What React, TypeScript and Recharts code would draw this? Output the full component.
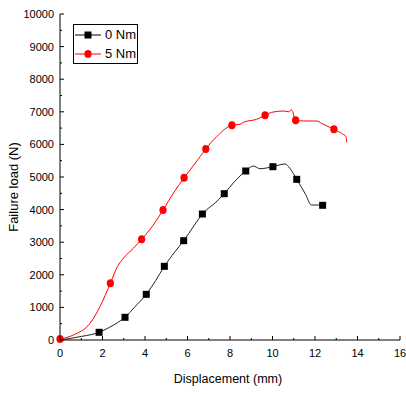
import { ComposedChart, Line, Scatter, XAxis, YAxis, Label } from "recharts";

// 0 Nm curve (black)
const disp0 = [0, 0.5, 1.0, 1.5, 1.84, 2.3, 2.7, 3.06, 3.5, 4.06, 4.5, 4.91, 5.4, 5.82, 6.3, 6.7, 7.0, 7.2, 7.73, 8.2, 8.74, 9.1, 9.41, 10.02, 10.59, 10.82, 11.14, 11.53, 11.84, 12.16, 12.36];
const load0 = [0, 50, 110, 170, 236, 380, 530, 696, 1000, 1401, 1820, 2260, 2700, 3046, 3500, 3865, 4050, 4150, 4488, 4850, 5184, 5337, 5255, 5316, 5399, 5266, 4929, 4499, 4141, 4141, 4132];
const markDisp0 = [1.84, 3.06, 4.06, 4.91, 5.82, 6.7, 7.73, 8.74, 10.02, 11.14, 12.36];
const markLoad0 = [236, 696, 1401, 2260, 3046, 3865, 4488, 5184, 5316, 4929, 4132];

// 5 Nm curve (red)
const disp5 = [0, 0.63, 1.41, 1.88, 2.37, 2.7, 3.0, 3.45, 3.84, 4.39, 4.85, 5.33, 5.84, 6.12, 6.59, 6.86, 7.37, 8.09, 8.47, 8.63, 9.25, 9.65, 9.96, 10.51, 10.75, 10.9, 11.09, 11.45, 12.08, 12.31, 12.89, 13.25, 13.46, 13.49];
const load5 = [30, 153, 511, 1022, 1739, 2250, 2520, 2812, 3089, 3528, 3988, 4499, 4979, 5215, 5623, 5859, 6237, 6586, 6616, 6678, 6770, 6893, 6984, 7024, 7003, 7055, 6739, 6718, 6718, 6647, 6463, 6340, 6236, 6064];
const markDisp5 = [0, 2.37, 3.84, 4.85, 5.84, 6.86, 8.09, 9.65, 11.09, 12.89];
const markLoad5 = [30, 1739, 3089, 3988, 4979, 5859, 6586, 6893, 6739, 6463];

const xTicks = [0, 1, 2, 3, 4, 5, 6, 7, 8, 9, 10, 11, 12, 13, 14, 15, 16];
const yTicks = Array.from({ length: 21 }, (_, i) => i * 500);

const zip = (xs: number[], ys: number[]) => xs.map((x, i) => ({ x, y: ys[i] }));

const curve0 = zip(disp0, load0);
const curve5 = zip(disp5, load5);
const marks0 = zip(markDisp0, markLoad0);
const marks5 = zip(markDisp5, markLoad5);

const FONT = "Arial, 'Liberation Sans', sans-serif";

function XTick({ x, y, payload }: any) {
  const major = payload.value % 2 === 0;
  return (
    <g>
      <line x1={x} x2={x} y1={y} y2={y - (major ? 4 : 2)} stroke="#000" />
      {major && (
        <text x={x} y={y + 17} textAnchor="middle" fontSize={11} fontFamily={FONT} fill="#000">
          {payload.value}
        </text>
      )}
    </g>
  );
}

function YTick({ x, y, payload }: any) {
  const major = payload.value % 1000 === 0;
  return (
    <g>
      <line x1={x} x2={x + (major ? 4 : 2)} y1={y} y2={y} stroke="#000" />
      {major && (
        <text x={x - 6} y={y + 4} textAnchor="end" fontSize={11} fontFamily={FONT} fill="#000">
          {payload.value}
        </text>
      )}
    </g>
  );
}

const square = (p: any) => <rect x={p.cx - 3.5} y={p.cy - 3.5} width={7} height={7} fill="#000" />;
const circle = (p: any) => <ellipse cx={p.cx} cy={p.cy} rx={3.6} ry={4} fill="#ff0000" />;

function LegendBox() {
  const row = (label: string, color: string, kind: "sq" | "ci") => (
    <div style={{ display: "flex", alignItems: "center", height: 19, whiteSpace: "nowrap" }}>
      <svg width={28} height={12} style={{ marginRight: 3, flexShrink: 0 }}>
        <line x1={1} x2={27} y1={6} y2={6} stroke={color} strokeWidth={1} />
        {kind === "sq" ? (
          <rect x={10.5} y={2.5} width={7} height={7} fill={color} />
        ) : (
          <ellipse cx={14} cy={6} rx={3.6} ry={4} fill={color} />
        )}
      </svg>
      <span style={{ fontSize: 13, fontFamily: FONT, color: "#000", lineHeight: "19px" }}>{label}</span>
    </div>
  );
  return (
    <div
      style={{
        position: "absolute",
        left: 73,
        top: 24,
        width: 63,
        height: 38,
        border: "1px solid #000",
        background: "#fff",
        overflow: "hidden",
        boxSizing: "content-box",
      }}
    >
      {row("0 Nm", "#000", "sq")}
      {row("5 Nm", "#ff0000", "ci")}
    </div>
  );
}

export default function App() {
  return (
    <div style={{ position: "absolute", left: 0, top: 0, width: 406, height: 394, background: "#fff" }}>
      <ComposedChart width={406} height={394} margin={{ top: 14, right: 6, bottom: 0, left: 0 }}>
        <XAxis
          type="number"
          dataKey="x"
          domain={[0, 16]}
          ticks={xTicks}
          interval={0}
          tickSize={0}
          tickMargin={0}
          height={54}
          axisLine={{ stroke: "#000" }}
          tick={<XTick />}
        >
          <Label
            content={({ viewBox }: any) => (
              <text
                x={viewBox.x + viewBox.width / 2 - 2}
                y={383}
                textAnchor="middle"
                fontSize={12.5}
                fontFamily={FONT}
                fill="#000"
              >
                Displacement (mm)
              </text>
            )}
          />
        </XAxis>
        <YAxis
          type="number"
          domain={[0, 10000]}
          ticks={yTicks}
          interval={0}
          tickSize={0}
          tickMargin={0}
          width={60}
          axisLine={{ stroke: "#000" }}
          tick={<YTick />}
        >
          <Label
            content={() => (
              <text
                x={18}
                y={187}
                transform="rotate(-90, 18, 187)"
                textAnchor="middle"
                fontSize={13}
                fontFamily={FONT}
                fill="#000"
              >
                Failure load (N)
              </text>
            )}
          />
        </YAxis>
        <Line data={curve0} dataKey="y" type="monotone" stroke="#222" strokeWidth={1} dot={false} isAnimationActive={false} />
        <Line data={curve5} dataKey="y" type="monotone" stroke="#ff0000" strokeWidth={1} dot={false} isAnimationActive={false} />
        <Scatter data={marks0} dataKey="y" shape={square} isAnimationActive={false} />
        <Scatter data={marks5} dataKey="y" shape={circle} isAnimationActive={false} />
      </ComposedChart>
      <LegendBox />
    </div>
  );
}
